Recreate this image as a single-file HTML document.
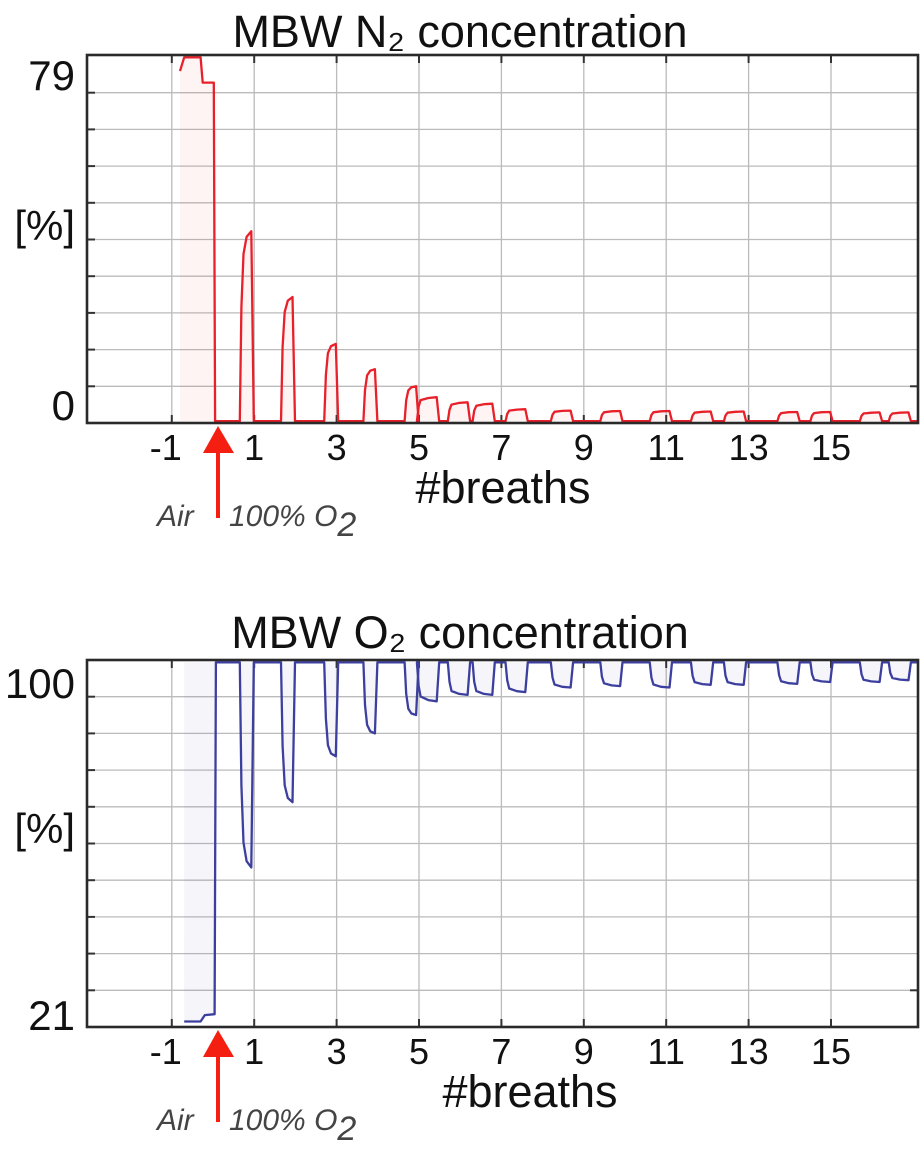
<!DOCTYPE html>
<html><head><meta charset="utf-8"><style>
html,body{margin:0;padding:0;background:#fff}
svg{display:block;font-family:"Liberation Sans","DejaVu Sans",sans-serif}
</style></head><body>
<svg id="root" width="920" height="1152" viewBox="0 0 920 1152" xmlns="http://www.w3.org/2000/svg"></svg>
<script>
// ---- data ----
const xTicks = [-1, 1, 3, 5, 7, 9, 11, 13, 15];
const breathPos = [0.95, 1.95, 3.0, 3.95, 4.95, 5.45, 6.2, 6.8, 7.6, 8.7, 9.9, 11.1, 12.1, 12.9, 14.2, 15.0, 16.2, 16.9];
const n2Peaks = [41.7, 27.4, 17.2, 11.7, 8.0, 5.6, 4.5, 4.2, 3.0, 2.7, 2.6, 2.6, 2.5, 2.5, 2.4, 2.4, 2.3, 2.3];
const o2Mins = [54.8, 69, 79, 84, 88, 91, 92.4, 92.4, 93, 94, 94.3, 94, 94.6, 94.6, 94.8, 95.2, 95.2, 95.6];
const n2Pre = [[-0.8, 76.5], [-0.7, 79.5], [-0.3, 79.5], [-0.25, 74], [0.02, 74]];
const o2Pre = [[-0.7, 21.2], [-0.3, 21.2], [-0.2, 22.6], [0.04, 22.8]];
const n2Labels = ["79", "[%]", "0"];
const o2Labels = ["100", "[%]", "21"];

const NS = "http://www.w3.org/2000/svg";
const root = document.getElementById('root');
function mk(tag, attrs, parent, text) {
  const e = document.createElementNS(NS, tag);
  for (const k in attrs) e.setAttribute(k, attrs[k]);
  if (text !== undefined) e.textContent = text;
  (parent || root).appendChild(e);
  return e;
}

const L = 87, R = 918, X0 = 213, PXB = 41.2;
const xs = b => X0 + b * PXB;

function chart(cfg) {
  const g = mk('g', {});
  
  
  const T = cfg.top, B = cfg.bottom;
  const ys = v => B - (v - cfg.vmin) / (cfg.vmax - cfg.vmin) * (B - T);
  const t = mk('text', {x: 460, y: cfg.titleY, 'font-size': 45, 'text-anchor': 'middle', fill: '#111'}, g, cfg.title);
  
  
  for (let i = 1; i <= 9; i++) {
    const y = B - i * 36.7;
    const gl = mk('line', {x1: L, x2: R, y1: y, y2: y, stroke: '#bbb', 'stroke-width': 1.3}, g);
    
    
    mk('line', {x1: L, x2: L + 8, y1: y, y2: y, stroke: '#333', 'stroke-width': 2}, g);
  }
  mk('line', {x1: R - 8, x2: R, y1: B - 36.7, y2: B - 36.7, stroke: '#333', 'stroke-width': 2}, g);
  xTicks.forEach(b => {
    const x = xs(b);
    const gl = mk('line', {x1: x, x2: x, y1: T, y2: B, stroke: '#bbb', 'stroke-width': 1.3}, g);
    
    
    mk('line', {x1: x, x2: x, y1: T, y2: T + 8, stroke: '#333', 'stroke-width': 2}, g);
    mk('line', {x1: x, x2: x, y1: B - 8, y2: B, stroke: '#333', 'stroke-width': 2}, g);
    const tl = mk('text', {x: x - (b < 0 ? 6 : 0), y: B + 37, 'font-size': 36, 'text-anchor': 'middle', fill: '#111'}, g, String(b));
    
    
  });
  const base = cfg.base;
  let pts = cfg.pre.map(p => [p[0], p[1]]);
  const lastPre = pts[pts.length - 1][0];
  pts.push([lastPre + 0.03, base]);
  breathPos.forEach((c, i) => {
    const w = i < 5 ? 0.3 : 0.5;
    const v = cfg.vals[i];
    pts.push([c - w, base]);
    pts.push([c - w + 0.04, base + (v - base) * 0.6]);
    pts.push([c - w + 0.09, base + (v - base) * 0.88]);
    pts.push([c - w * 0.45, base + (v - base) * 0.97]);
    pts.push([c - 0.02, v]);
    pts.push([c + 0.04, base]);
  });
  pts.push([(R - X0) / PXB, base]);
  const d = pts.map((p, i) => (i ? 'L' : 'M') + xs(p[0]).toFixed(1) + ' ' + ys(p[1]).toFixed(1)).join(' ');
  const fillD = d + ` L ${xs((R - X0) / PXB)} ${ys(base)} L ${xs(pts[0][0])} ${ys(base)} Z`;
  const f = mk('path', {d: fillD, fill: cfg.color, 'fill-opacity': 0.05, stroke: 'none'}, g);
  
  
  const s = mk('path', {d: d, fill: 'none', stroke: cfg.color, 'stroke-width': 2.3, 'stroke-linejoin': 'round'}, g);
  
  
  const fr = mk('rect', {x: L, y: T, width: R - L, height: B - T, fill: 'none', stroke: '#2a2a2a', 'stroke-width': 2.6}, g);
  
  
  cfg.yLabelY.forEach((yy, i) => {
    const yl = mk('text', {x: 75, y: yy, 'font-size': 42, 'text-anchor': 'end', fill: '#111'}, g, cfg.yLabels[i]);
    
    
  });
  const xt = mk('text', {x: cfg.xTitleX, y: B + 80, 'font-size': 45, 'text-anchor': 'middle', fill: '#111'}, g, '#breaths');
  
  
  const a = mk('g', {}, g);
  
  
  mk('line', {x1: 218, x2: 218, y1: B + 25, y2: B + 95, stroke: '#f41f10', 'stroke-width': 4}, a);
  mk('polygon', {points: `218,${B + 3} 203,${B + 30} 234,${B + 30}`, fill: '#f41f10'}, a);
  const air = mk('text', {x: 157, y: B + 103, 'font-size': 30, 'font-style': 'italic', fill: '#444'}, g, 'Air');
  
  
  const o = mk('text', {x: 229, y: B + 103, 'font-size': 30, 'font-style': 'italic', fill: '#444'}, g);
  
  
  mk('tspan', {}, o, '100% O');
  mk('tspan', {dy: 10, 'font-size': 34}, o, '2');
}

chart({name: 'n2-chart', title: 'MBW N\u2082 concentration', titleY: 47, top: 55, bottom: 423,
  vmin: 0, vmax: 80, pre: n2Pre, vals: n2Peaks, base: 0.4, color: '#e8202a', seriesName: 'n2-series',
  yLabels: n2Labels, yLabelY: [90, 240, 420], xTitleX: 503});
chart({name: 'o2-chart', title: 'MBW O\u2082 concentration', titleY: 648, top: 660, bottom: 1027,
  vmin: 20, vmax: 100, pre: o2Pre, vals: o2Mins, base: 99.5, color: '#3d3f9e', seriesName: 'o2-series',
  yLabels: o2Labels, yLabelY: [698, 843, 1030], xTitleX: 530});
</script>
</body></html>
